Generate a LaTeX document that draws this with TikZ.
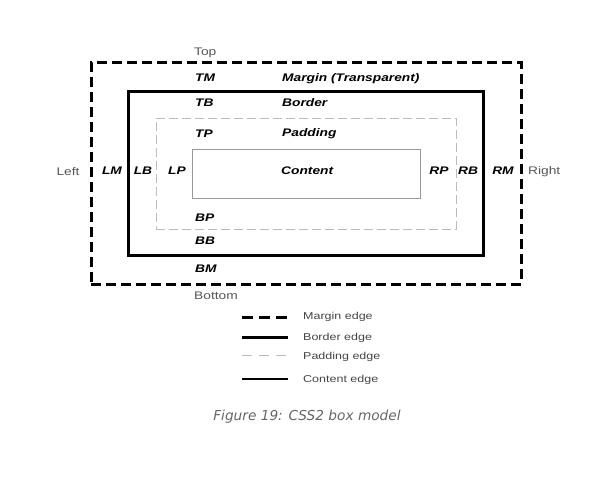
\documentclass[tikz,border=0pt]{standalone}
\usepackage{fontspec}
\usepackage{xcolor}
\usetikzlibrary{positioning}
\newfontfamily\boxfont{Liberation Sans}[FakeStretch=1.25]
\newfontfamily\capfont{DejaVu Sans}
\definecolor{sidegray}{HTML}{555555}
\definecolor{keygray}{HTML}{444444}
\definecolor{capgray}{HTML}{666666}
\definecolor{padgray}{HTML}{BBBBBB}
\definecolor{congray}{HTML}{999999}

\begin{document}
\begin{tikzpicture}[x=1pt,y=-1pt]
\tikzset{
edgebox/.style={draw,rectangle,inner sep=0pt,minimum width=#1},
marginline/.style={line width=3pt,dash pattern=on 10pt off 5pt,color=black},
borderline/.style={line width=3pt,color=black},
paddingline/.style={line width=0.8pt,dash pattern=on 9pt off 4pt,color=padgray},
contentline/.style={line width=0.8pt,color=congray},
side/.style={font=\boxfont\fontsize{11}{13}\selectfont,color=sidegray,inner sep=0pt,yshift=-1.2pt},
lbl/.style={font=\boxfont\fontsize{11}{13}\selectfont\bfseries\itshape,inner sep=0pt,yshift=-1.2pt},
keytext/.style={font=\boxfont\fontsize{10}{12}\selectfont,color=keygray,inner sep=0pt,anchor=west,yshift=-1.2pt}}
\useasboundingbox (0,0) rectangle (607,476);

% the four nested edges, all centred on the same point
\node[edgebox=430pt,minimum height=221pt,marginline] (margin) at (306,173.5) {};
\node[edgebox=355pt,minimum height=163pt,borderline] (border) at (305.5,173.5) {};
\node[edgebox=300pt,minimum height=111pt,paddingline] (padding) at (306,173.5) {};
\node[edgebox=228pt,minimum height=49pt,contentline] (content) at (306,173.5) {};

% side names
\node[side,anchor=west] (top) at (194,52) {Top};
\node[side,anchor=west] (bottom) at (194,295) {Bottom};
\node[side] (left) at (68,170) {Left};
\node[side,anchor=west] (right) at (528,170) {Right};

% top and bottom widths
\node[lbl,anchor=west] (tm) at (195,77) {TM};
\node[lbl,anchor=west] (tb) at (195,102) {TB};
\node[lbl,anchor=west] (tp) at (195,133) {TP};
\node[lbl,anchor=west] (bp) at (195,217) {BP};
\node[lbl,anchor=west] (bb) at (195,240) {BB};
\node[lbl,anchor=west] (bm) at (195,268) {BM};

% area names
\node[lbl,anchor=west] (mname) at (282,77) {Margin (Transparent)};
\node[lbl,anchor=west] (bname) at (282,101) {Border};
\node[lbl,anchor=west] (pname) at (282,132) {Padding};
\node[lbl,anchor=west] (cname) at (281,170) {Content};

% left and right widths
\node[lbl] (lm) at (112,170) {LM};
\node[lbl] (lb) at (143,170) {LB};
\node[lbl] (lp) at (177,170) {LP};
\node[lbl] (rp) at (439,170) {RP};
\node[lbl] (rb) at (468,170) {RB};
\node[lbl] (rm) at (503,170) {RM};

% key
\coordinate (k1a) at (242,317); \coordinate (k1b) at (288,317);
\coordinate (k2a) at (242,337); \coordinate (k2b) at (288,337);
\coordinate (k3a) at (242,355); \coordinate (k3b) at (288,355);
\coordinate (k4a) at (242,379); \coordinate (k4b) at (288,379);
\draw[line width=3pt,dash pattern=on 11pt off 6pt] (k1a) -- (k1b);
\draw[borderline] (k2a) -- (k2b);
\draw[line width=0.6pt,dash pattern=on 10pt off 7pt,color=padgray] (k3a) -- (k3b);
\draw[line width=1.3pt] (k4a) -- (k4b);
\node[keytext] (k1) at (303,316) {Margin edge};
\node[keytext] (k2) at (303,337) {Border edge};
\node[keytext] (k3) at (303,356) {Padding edge};
\node[keytext] (k4) at (303,379) {Content edge};

\node[font=\capfont\itshape\fontsize{13.7}{16}\selectfont,color=capgray] (caption) at (307,417) {Figure 19: CSS2 box model};
\end{tikzpicture}
\end{document}
